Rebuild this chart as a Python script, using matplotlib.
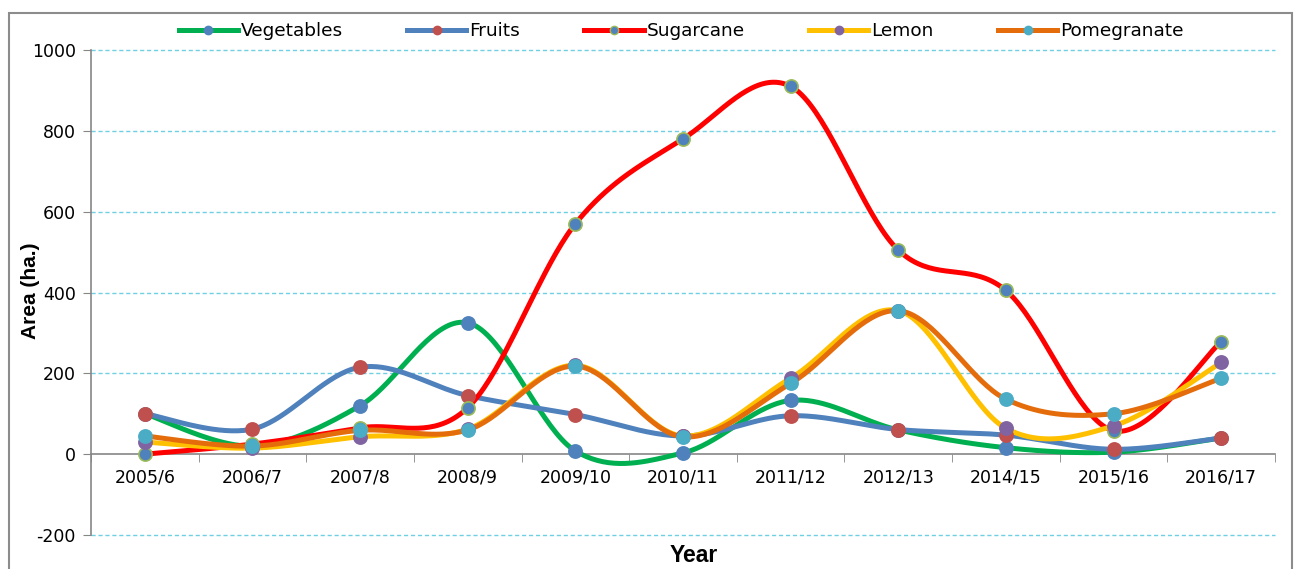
import numpy as np
import matplotlib
matplotlib.use("Agg")
import matplotlib.pyplot as plt
from matplotlib.lines import Line2D
from matplotlib.patches import Rectangle
from matplotlib.font_manager import FontProperties

plt.rcParams['font.family'] = ['DejaVu Sans']

categories = ['2005/6', '2006/7', '2007/8', '2008/9', '2009/10', '2010/11',
              '2011/12', '2012/13', '2014/15', '2015/16', '2016/17']
vegetables = [100, 20, 120, 325, 8, 3, 133, 60, 16, 5, 40]
fruits = [100, 62, 215, 145, 98, 45, 95, 61, 47, 12, 40]
sugarcane = [0, 25, 65, 115, 570, 780, 910, 505, 405, 58, 278]
lemon = [30, 15, 43, 62, 220, 45, 188, 355, 64, 70, 227]
pomegranate = [45, 20, 59, 60, 218, 43, 175, 355, 136, 100, 188]

series = [
    ('Vegetables', vegetables, '#00B050', '#4F81BD', '#4F81BD'),
    ('Fruits', fruits, '#4F81BD', '#C0504D', '#C0504D'),
    ('Sugarcane', sugarcane, '#FF0000', '#4F81BD', '#9BBB59'),
    ('Lemon', lemon, '#FFC000', '#8064A2', '#8064A2'),
    ('Pomegranate', pomegranate, '#E46C0A', '#4BACC6', '#4BACC6'),
]


def smooth(yv, n=40):
    x = np.arange(len(yv), dtype=float)
    y = np.asarray(yv, dtype=float)
    P = np.column_stack([x, y])
    out = []
    t = np.linspace(0, 1, n)[:, None]
    for i in range(len(P) - 1):
        p0 = P[i - 1] if i > 0 else P[i]
        p1 = P[i]
        p2 = P[i + 1]
        p3 = P[i + 2] if i + 2 < len(P) else P[i + 1]
        c1 = p1 + (p2 - p0) / 6.0
        c2 = p2 - (p3 - p1) / 6.0
        b = ((1 - t) ** 3) * p1 + 3 * ((1 - t) ** 2) * t * c1 + 3 * (1 - t) * t ** 2 * c2 + t ** 3 * p2
        out.append(b if i == 0 else b[1:])
    B = np.vstack(out)
    return B[:, 0], B[:, 1]


W, H = 1298, 569
fig = plt.figure(figsize=(W / 100, H / 100), dpi=100)
ax = fig.add_axes([91 / W, 1 - 535 / H, (1275 - 91) / W, (535 - 50) / H])

x = np.arange(len(categories))
handles = []
for name, vals, lc, mf, me in series:
    sx, sy = smooth(vals)
    ax.plot(sx, sy, color=lc, lw=3.6, solid_capstyle='round', zorder=3)
    ax.plot(x, vals, linestyle='none', marker='o', markersize=9.5,
            markerfacecolor=mf, markeredgecolor=me, markeredgewidth=1.2, zorder=4)
    handles.append(Line2D([0], [0], color=lc, lw=3.6, marker='o', markersize=6,
                          markerfacecolor=mf, markeredgecolor=me))

ax.set_xlim(-0.5, len(categories) - 0.5)
ax.set_ylim(-200, 1000)
ax.set_yticks(np.arange(-200, 1001, 200))
ax.set_yticklabels([str(v) for v in range(-200, 1001, 200)], fontsize=12.5)

for gy in [-200, 200, 400, 600, 800, 1000]:
    ax.axhline(gy, color='#6FD0E4', lw=1.0, linestyle=(0, (3, 2)), zorder=1, clip_on=False)

for s in ['top', 'right']:
    ax.spines[s].set_visible(False)
ax.spines['bottom'].set_position(('data', 0))
ax.spines['bottom'].set_color('#868686')
ax.spines['left'].set_color('#868686')
ax.spines['bottom'].set_linewidth(1.2)
ax.spines['left'].set_linewidth(1.2)

ax.set_xticks(x)
ax.set_xticklabels(categories, fontsize=12.5)
ax.set_xticks(np.arange(-0.5, len(categories)), minor=True)
ax.tick_params(axis='x', which='major', length=0, pad=10)
ax.tick_params(axis='x', which='minor', length=6, color='#868686', direction='out')
ax.tick_params(axis='y', length=6, color='#868686', direction='out', pad=5)

lab_fp = FontProperties(family='Liberation Sans', weight='bold', stretch='normal', size=15)
fig.text(30 / W, 1 - 291 / H, 'Area (ha.)', fontproperties=lab_fp, rotation=90,
         ha='center', va='center')
year_fp = FontProperties(family='Liberation Sans', weight='bold', stretch='normal', size=16.5)
fig.text(694 / W, 1 - 556 / H, 'Year', fontproperties=year_fp, ha='center', va='center')

leg = fig.legend(handles, [s[0] for s in series], loc='center', bbox_to_anchor=(681 / W, 1 - 31 / H),
                 ncol=5, frameon=False, fontsize=13.3, handlelength=3.2, handletextpad=0.15,
                 columnspacing=3.5)

fig.patches.append(Rectangle((9 / W, -0.05), (1292 - 9) / W, 1 - 13 / H + 0.05,
                             transform=fig.transFigure, fill=False, edgecolor='#8C8C8C', lw=1.5))

fig.savefig('out.png', dpi=100)
